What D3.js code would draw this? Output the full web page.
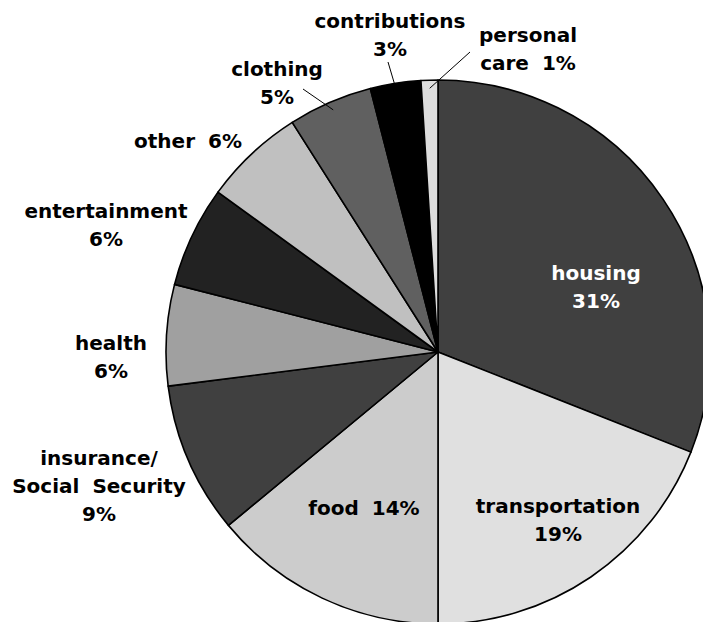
<!DOCTYPE html>
<html>
<head>
<meta charset="utf-8">
<script src="https://cdn.jsdelivr.net/npm/d3@7"></script>
<style>
    body { margin: 0; background: #fff; }
    text { font-family: "DejaVu Sans", Verdana, sans-serif; font-weight: bold; font-size: 20px; word-spacing: 6px; }
</style>
</head>
<body>
<div class="container"></div>
<script>
// spending categories, clockwise from 12 o'clock
let categories = ["housing", "transportation", "food", "insurance/Social Security", "health",
    "entertainment", "other", "clothing", "contributions", "personal care"];
let shares = [31, 19, 14, 9, 6, 6, 6, 5, 3, 1];
let labelLines = [
    ["housing", "31%"],
    ["transportation", "19%"],
    ["food 14%"],
    ["insurance/", "Social Security", "9%"],
    ["health", "6%"],
    ["entertainment", "6%"],
    ["other 6%"],
    ["clothing", "5%"],
    ["contributions", "3%"],
    ["personal", "care 1%"]
];
let fills = ["#404040", "#e0e0e0", "#cccccc", "#404040", "#a0a0a0",
    "#222222", "#c0c0c0", "#606060", "#000000", "#dddddd"];

let width = 703,
    height = 622,
    cx = 438,
    cy = 352,
    radius = 272,
    lineH = 28;

// label anchors (first baseline) relative to pie center, plus leader start for small slices
let labelAt = [
    { x: 158, y: -72 },
    { x: 120, y: 161 },
    { x: -74, y: 163 },
    { x: -339, y: 113 },
    { x: -327, y: -2 },
    { x: -332, y: -134 },
    { x: -250, y: -204 },
    { x: -161, y: -276, lead: [-135, -263] },
    { x: -48, y: -324, lead: [-50, -290] },
    { x: 90, y: -310, lead: [32, -300] }
];

let data = categories.map((c, i) => ({ name: c, value: shares[i], lines: labelLines[i], fill: fills[i], pos: labelAt[i] }));

let svg = d3.select(".container")
    .append("svg")
    .attr("width", width)
    .attr("height", height)
    .append("g")
    .attr("transform", "translate(" + cx + "," + cy + ")");

let pie = d3.pie()
    .sort(null)
    .value(d => d.value);

let arc = d3.arc()
    .innerRadius(0)
    .outerRadius(radius);

let arcs = pie(data);

svg.selectAll("path.slice")
    .data(arcs)
    .enter()
    .append("path")
    .attr("class", "slice")
    .attr("d", arc)
    .style("fill", d => d.data.fill)
    .attr("stroke", "black")
    .attr("stroke-width", 1.6)
    .attr("stroke-linejoin", "round");

// leader lines for the thin slices
let inner = d3.arc().innerRadius(radius * 0.97).outerRadius(radius * 0.97);
svg.selectAll("line.lead")
    .data(arcs.filter(d => d.data.pos.lead))
    .enter()
    .append("line")
    .attr("class", "lead")
    .attr("x1", d => d.data.pos.lead[0])
    .attr("y1", d => d.data.pos.lead[1])
    .attr("x2", d => inner.centroid(d)[0])
    .attr("y2", d => inner.centroid(d)[1])
    .attr("stroke", "black")
    .attr("stroke-width", 1);

let labels = svg.selectAll("text.lbl")
    .data(arcs)
    .enter()
    .append("text")
    .attr("class", "lbl")
    .attr("text-anchor", "middle")
    .style("fill", d => d.index === 0 ? "#fff" : "#000")
    .attr("transform", d => "translate(" + d.data.pos.x + "," + d.data.pos.y + ")");

labels.selectAll("tspan")
    .data(d => d.data.lines)
    .enter()
    .append("tspan")
    .attr("x", 0)
    .attr("y", (d, i) => i * lineH)
    .text(d => d);
</script>
</body>
</html>
